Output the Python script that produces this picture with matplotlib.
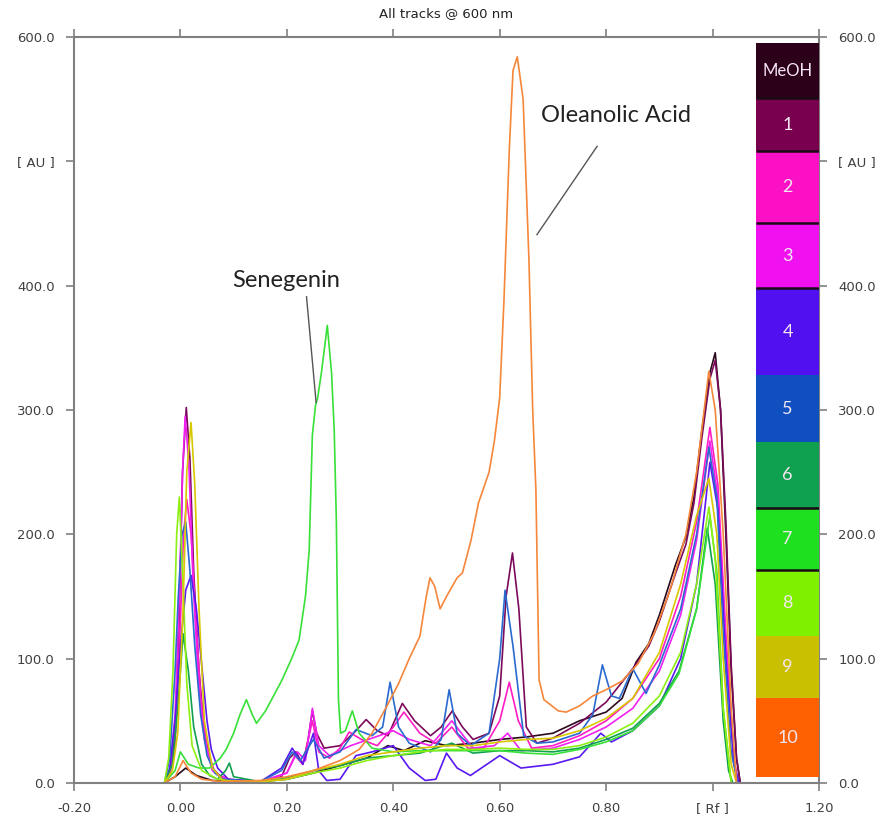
import matplotlib
matplotlib.use("Agg")
import matplotlib.pyplot as plt
from matplotlib.patches import Rectangle

# ---- data (Rf, AU) ----
meoh_rf = [-0.03, -0.01, 0.01, 0.03, 0.06, 0.10, 0.15, 0.20, 0.25, 0.30, 0.35, 0.39, 0.42, 0.46, 0.50,
           0.55, 0.60, 0.65, 0.70, 0.75, 0.80, 0.83, 0.856, 0.88, 0.90, 0.93, 0.95, 0.965, 0.98, 0.995,
           1.005, 1.015, 1.025, 1.035, 1.045, 1.052]
meoh_au = [0, 5, 12, 6, 2, 1, 1, 3, 8, 14, 20, 30, 26, 34, 30,
           32, 35, 37, 40, 50, 57, 68, 97, 112, 135, 175, 198, 230, 284, 330,
           346, 300, 200, 90, 20, 0]

t1_rf = [-0.03, -0.02, -0.01, -0.003, 0.004, 0.011, 0.018, 0.025, 0.035, 0.045, 0.06, 0.08, 0.10, 0.15, 0.19,
         0.205, 0.217, 0.23, 0.24, 0.248, 0.256, 0.27, 0.30, 0.33, 0.349, 0.37, 0.39, 0.417, 0.44, 0.47,
         0.49, 0.511, 0.53, 0.55, 0.58, 0.60, 0.612, 0.624, 0.636, 0.65, 0.67, 0.70, 0.75, 0.80, 0.85,
         0.88, 0.90, 0.93, 0.95, 0.965, 0.98, 0.995, 1.005, 1.015, 1.025, 1.035, 1.045, 1.052]
t1_au = [0, 8, 40, 120, 250, 302, 260, 170, 90, 40, 12, 3, 2, 1, 5,
         20, 25, 15, 35, 58, 40, 28, 30, 42, 51, 42, 38, 64, 50, 38,
         45, 58, 45, 35, 40, 70, 150, 185, 140, 45, 32, 36, 48, 65, 92,
         110, 130, 168, 192, 225, 278, 325, 340, 300, 210, 95, 20, 0]

t2_rf = [-0.03, -0.02, -0.01, 0.0, 0.006, 0.012, 0.02, 0.028, 0.038, 0.05, 0.065, 0.09, 0.15, 0.20, 0.215,
         0.23, 0.248, 0.26, 0.28, 0.30, 0.317, 0.34, 0.37, 0.40, 0.42, 0.45, 0.48, 0.51, 0.54, 0.57,
         0.60, 0.618, 0.635, 0.66, 0.70, 0.75, 0.80, 0.85, 0.90, 0.94, 0.97, 0.995, 1.01, 1.025, 1.04,
         1.048]
t2_au = [0, 6, 30, 130, 200, 228, 200, 140, 70, 28, 8, 3, 1, 8, 22,
         15, 50, 25, 20, 28, 41, 35, 30, 45, 57, 40, 32, 45, 28, 28,
         50, 81, 50, 28, 30, 38, 50, 68, 100, 150, 210, 286, 240, 120, 20,
         0]

t3_rf = [-0.03, -0.02, -0.01, -0.002, 0.004, 0.009, 0.016, 0.024, 0.034, 0.045, 0.06, 0.08, 0.15, 0.20, 0.22,
         0.235, 0.248, 0.26, 0.28, 0.32, 0.36, 0.40, 0.43, 0.47, 0.51, 0.55, 0.59, 0.615, 0.64, 0.70,
         0.75, 0.80, 0.85, 0.90, 0.94, 0.97, 0.995, 1.01, 1.025, 1.04, 1.048]
t3_au = [0, 10, 55, 150, 250, 295, 255, 160, 80, 35, 10, 3, 1, 8, 25,
         18, 60, 30, 22, 30, 36, 42, 35, 30, 50, 28, 30, 40, 26, 28,
         35, 45, 60, 90, 135, 195, 275, 230, 110, 20, 0]

t4_rf = [-0.03, -0.02, -0.01, 0.0, 0.01, 0.02, 0.03, 0.04, 0.05, 0.058, 0.07, 0.09, 0.15, 0.19, 0.21,
         0.23, 0.25, 0.26, 0.275, 0.30, 0.33, 0.36, 0.40, 0.43, 0.46, 0.48, 0.50, 0.52, 0.545, 0.60,
         0.64, 0.70, 0.75, 0.79, 0.81, 0.85, 0.90, 0.94, 0.97, 0.995, 1.01, 1.025, 1.04, 1.05]
t4_au = [0, 12, 50, 110, 155, 167, 140, 95, 50, 27, 12, 3, 1, 12, 28,
         15, 40, 10, 2, 3, 22, 25, 30, 12, 2, 3, 24, 12, 6, 22,
         12, 15, 21, 40, 33, 42, 62, 100, 160, 258, 220, 100, 15, 0]

t5_rf = [-0.03, -0.02, -0.01, -0.004, 0.003, 0.01, 0.018, 0.027, 0.038, 0.05, 0.065, 0.08, 0.15, 0.19, 0.21,
         0.225, 0.25, 0.27, 0.30, 0.33, 0.36, 0.38, 0.394, 0.41, 0.43, 0.47, 0.49, 0.505, 0.52, 0.545,
         0.58, 0.60, 0.61, 0.625, 0.645, 0.67, 0.70, 0.75, 0.775, 0.793, 0.81, 0.825, 0.85, 0.875, 0.90,
         0.94, 0.97, 0.993, 1.008, 1.02, 1.035, 1.047]
t5_au = [0, 20, 90, 150, 200, 210, 170, 110, 55, 22, 8, 3, 1, 10, 25,
         18, 35, 20, 25, 43, 38, 45, 81, 45, 32, 25, 35, 75, 40, 30,
         40, 100, 155, 110, 38, 32, 33, 40, 55, 95, 70, 68, 92, 72, 95,
         140, 200, 270, 230, 120, 25, 0]

t6_rf = [-0.03, -0.015, -0.005, 0.005, 0.015, 0.025, 0.04, 0.055, 0.07, 0.085, 0.092, 0.10, 0.15, 0.20, 0.25,
         0.30, 0.35, 0.40, 0.45, 0.51, 0.55, 0.60, 0.65, 0.70, 0.75, 0.80, 0.85, 0.90, 0.937, 0.97,
         0.99, 1.005, 1.02, 1.03, 1.038]
t6_au = [0, 15, 60, 120, 90, 45, 15, 6, 3, 10, 16, 5, 1, 4, 10,
         14, 20, 22, 24, 32, 24, 26, 26, 25, 28, 35, 44, 64, 90, 140,
         205, 160, 50, 10, 0]

t7_rf = [-0.03, -0.01, 0.0, 0.015, 0.035, 0.055, 0.075, 0.086, 0.10, 0.112, 0.124, 0.135, 0.143, 0.16, 0.19,
         0.21, 0.223, 0.235, 0.242, 0.248, 0.254, 0.258, 0.265, 0.276, 0.284, 0.289, 0.293, 0.297, 0.301, 0.31,
         0.323, 0.336, 0.36, 0.40, 0.45, 0.50, 0.55, 0.60, 0.65, 0.70, 0.75, 0.80, 0.85, 0.90, 0.937,
         0.97, 0.995, 1.008, 1.02, 1.035]
t7_au = [0, 10, 25, 15, 12, 12, 20, 27, 40, 55, 67, 55, 48, 58, 82,
         101, 115, 150, 187, 280, 304, 310, 330, 368, 330, 284, 212, 67, 40, 42,
         58, 40, 28, 25, 26, 26, 26, 26, 24, 23, 27, 33, 42, 62, 88,
         140, 215, 170, 60, 0]

t8_rf = [-0.03, -0.022, -0.014, -0.007, -0.002, 0.004, 0.012, 0.022, 0.04, 0.07, 0.10, 0.15, 0.20, 0.25, 0.30,
         0.35, 0.40, 0.45, 0.50, 0.55, 0.60, 0.65, 0.70, 0.75, 0.80, 0.85, 0.90, 0.94, 0.97, 0.993,
         1.005, 1.02, 1.035]
t8_au = [0, 20, 90, 200, 230, 170, 80, 30, 10, 3, 1, 1, 3, 8, 12,
         18, 22, 25, 27, 27, 28, 27, 27, 30, 37, 48, 70, 105, 160, 222,
         180, 60, 0]

t9_rf = [-0.03, -0.015, -0.005, 0.005, 0.012, 0.02, 0.027, 0.035, 0.045, 0.06, 0.08, 0.15, 0.20, 0.25, 0.30,
         0.35, 0.40, 0.45, 0.50, 0.55, 0.60, 0.65, 0.70, 0.75, 0.80, 0.85, 0.90, 0.94, 0.97, 0.993,
         1.008, 1.02, 1.035, 1.045]
t9_au = [0, 10, 40, 140, 250, 290, 240, 140, 50, 12, 2, 1, 3, 10, 15,
         22, 25, 28, 30, 30, 33, 35, 36, 42, 52, 68, 105, 160, 215, 245,
         200, 100, 15, 0]

t10_rf = [-0.03, -0.01, 0.005, 0.02, 0.04, 0.08, 0.15, 0.20, 0.25, 0.30, 0.336, 0.36, 0.387, 0.41, 0.43,
          0.45, 0.462, 0.469, 0.478, 0.488, 0.50, 0.52, 0.53, 0.546, 0.56, 0.58, 0.59, 0.60, 0.608, 0.618,
          0.625, 0.633, 0.644, 0.655, 0.662, 0.668, 0.674, 0.683, 0.71, 0.725, 0.75, 0.775, 0.80, 0.83, 0.86,
          0.89, 0.92, 0.95, 0.97, 0.993, 1.005, 1.02, 1.035, 1.045]
t10_au = [0, 5, 18, 8, 3, 1, 2, 5, 10, 18, 27, 40, 61, 80, 100,
          118, 150, 165, 158, 140, 150, 165, 169, 195, 225, 250, 275, 310, 388, 509,
          573, 584, 550, 420, 300, 236, 83, 67, 58, 57, 62, 70, 75, 82, 96,
          120, 155, 200, 250, 331, 300, 200, 60, 0]

track_names = ["MeOH", "1", "2", "3", "4", "5", "6", "7", "8", "9", "10"]
line_colors = ["#2b0a1e", "#7b0a5a", "#ff1cc4", "#f020f0", "#5a18f0", "#2a6ad0",
               "#10a050", "#38e038", "#8cf010", "#d8c800", "#f5873a"]
bar_colors = ["#2c0019", "#78004f", "#fb10c6", "#f010f0", "#5010f0", "#0f4fc0",
              "#0fa050", "#1ee01e", "#7ef000", "#c8c000", "#fc6000"]

x_ticks = [-0.20, 0.00, 0.20, 0.40, 0.60, 0.80, 1.00, 1.20]
x_tick_labels = ["-0.20", "0.00", "0.20", "0.40", "0.60", "0.80", "[ Rf ]", "1.20"]
y_ticks = [0, 100, 200, 300, 400, 500, 600]
y_tick_labels = ["0.0", "100.0", "200.0", "300.0", "400.0", "[ AU ]", "600.0"]

# colour bar segment edges (in AU units, top to bottom)
bar_edges = [595, 551, 508, 450, 398, 328, 274, 221, 171, 118, 68, 5]

tracks_rf = [meoh_rf, t1_rf, t2_rf, t3_rf, t4_rf, t5_rf, t6_rf, t7_rf, t8_rf, t9_rf, t10_rf]
tracks_au = [meoh_au, t1_au, t2_au, t3_au, t4_au, t5_au, t6_au, t7_au, t8_au, t9_au, t10_au]

fig = plt.figure(figsize=(8.88, 8.19), dpi=100)
ax = fig.add_axes([0.0833, 0.044, 0.839, 0.9109])

for rf, au, col in zip(tracks_rf, tracks_au, line_colors):
    ax.plot(rf, au, color=col, lw=1.2)

ax.set_xlim(-0.2, 1.2)
ax.set_ylim(0, 600)
ax.set_xticks(x_ticks)
ax.set_xticklabels(x_tick_labels)
ax.set_yticks(y_ticks)
ax.set_yticklabels(y_tick_labels)
ax.tick_params(direction='out', length=6, width=1.2, color='#808080',
               top=True, right=True, labelright=True, labelsize=9.5,
               labelcolor='#404040', pad=8)
for sp in ax.spines.values():
    sp.set_color('#808080')
    sp.set_linewidth(1.5)

ax.set_title("All tracks @ 600 nm", fontsize=9.5, color='#222222', pad=14)

# colour key on the right
bx0, bx1 = 1.082, 1.2
for i, name in enumerate(track_names):
    top, bot = bar_edges[i], bar_edges[i + 1]
    ax.add_patch(Rectangle((bx0, bot), bx1 - bx0, top - bot, facecolor=bar_colors[i],
                           edgecolor='none', zorder=5))
    ax.text((bx0 + bx1) / 2, (top + bot) / 2, name, ha='center', va='center',
            color='#f4e6f0', fontsize=12 if name == "MeOH" else 13,
            family='Lato', zorder=6)
for e in [551, 508, 450, 398, 221, 171]:
    ax.plot([bx0, bx1], [e, e], color='#1a0a14', lw=1.8, zorder=6, solid_capstyle='butt')

# annotations
ax.text(0.819, 537, "Oleanolic Acid", ha='center', va='center', fontsize=17,
        family='Lato', color='#222222')
ax.plot([0.783, 0.670], [512, 441], color='#555555', lw=1)
ax.text(0.199, 404, "Senegenin", ha='center', va='center', fontsize=17,
        family='Lato', color='#222222')
ax.plot([0.237, 0.255], [391, 306], color='#555555', lw=1)

fig.savefig("out.png", dpi=100)
